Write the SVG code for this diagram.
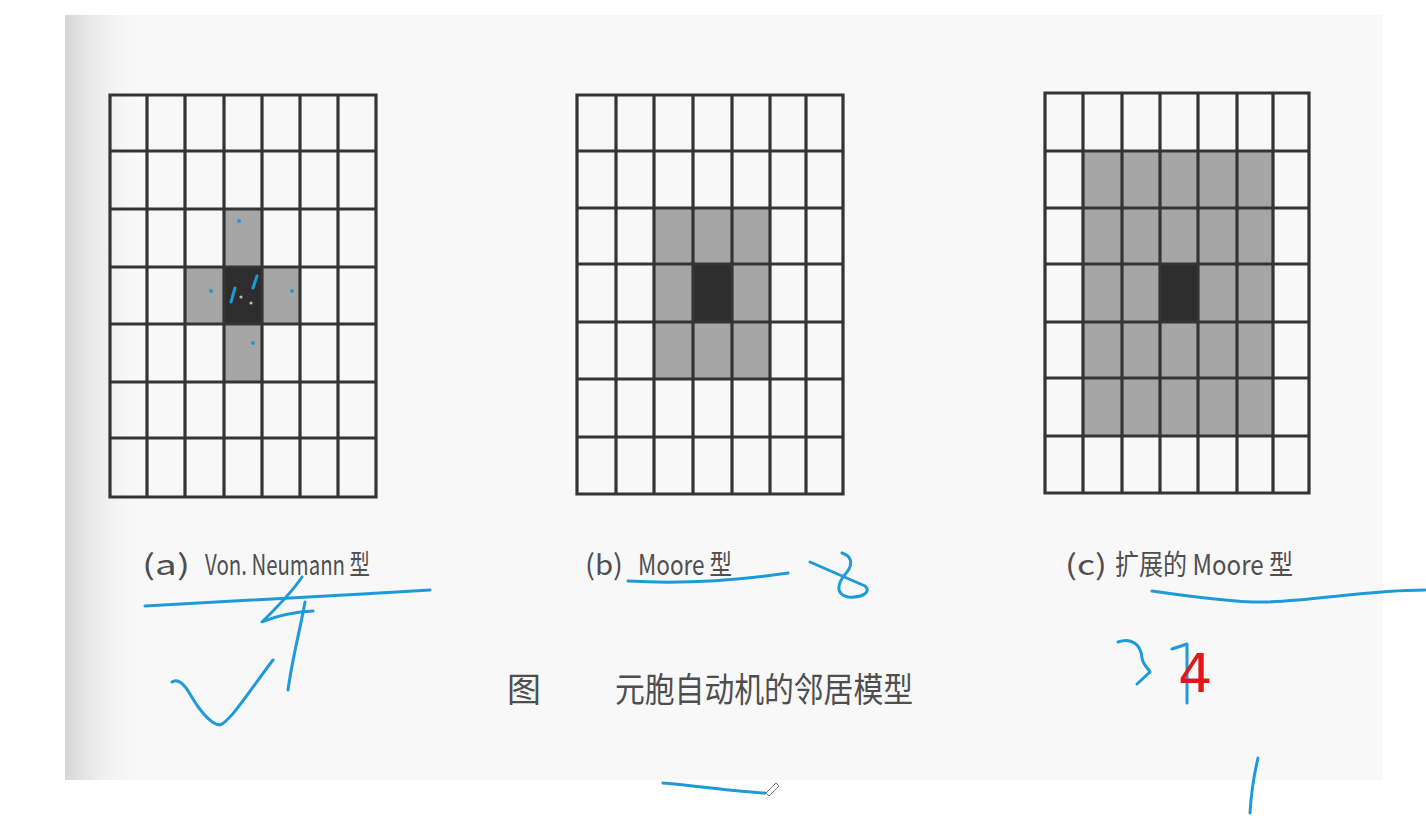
<svg xmlns="http://www.w3.org/2000/svg" width="1426" height="820" viewBox="0 0 1426 820">
<defs>
<linearGradient id="edge" x1="0" y1="0" x2="1" y2="0">
<stop offset="0" stop-color="#d6d6d6"/>
<stop offset="1" stop-color="#f8f8f9" stop-opacity="0"/>
</linearGradient>
<style>
.grid{fill:none;stroke:#343434;stroke-width:3.2}
.nb{fill:#a6a6a6}
.ct{fill:#2d2d2d}
.lbl{font-family:"Liberation Sans Narrow","Noto Sans CJK SC",sans-serif;font-size:28px;fill:#4e4e4e}
.cjk{font-family:"Noto Sans CJK SC","Noto Sans CJK JP",sans-serif;fill:#4e4e4e}
.ink{fill:none;stroke:#1f9ad8;stroke-width:3;stroke-linecap:round;stroke-linejoin:round}
.dot{fill:#1f9ad8}
</style>
</defs>
<rect width="1426" height="820" fill="#ffffff"/>
<rect x="65" y="15" width="1318" height="765" fill="#f8f8f9"/>
<rect x="65" y="15" width="80" height="765" fill="url(#edge)"/>

<g id="grid-a">
<rect class="nb" x="224" y="209" width="38" height="58"/>
<rect class="nb" x="185" y="267" width="39" height="57"/>
<rect class="nb" x="262" y="267" width="38" height="57"/>
<rect class="nb" x="224" y="324" width="38" height="58"/>
<rect class="ct" x="224" y="267" width="38" height="57"/>
<path class="grid" d="M110,95H376V497H110Z M147,95V497 M185,95V497 M224,95V497 M262,95V497 M300,95V497 M338,95V497 M110,151H376 M110,209H376 M110,267H376 M110,324H376 M110,382H376 M110,438H376"/>
<circle class="dot" cx="239" cy="221" r="2"/>
<circle class="dot" cx="211" cy="291" r="2"/>
<circle class="dot" cx="292" cy="291" r="2"/>
<circle class="dot" cx="253" cy="343" r="2"/>
<circle cx="241" cy="297" r="1.6" fill="#bbbbbb"/>
<circle cx="251" cy="303" r="1.6" fill="#bbbbbb"/>
<path class="ink" d="M231,302L235,288 M253,288L257,276"/>
</g>

<g id="grid-b">
<rect class="nb" x="654" y="208" width="116" height="171"/>
<rect class="ct" x="693" y="264" width="39" height="58"/>
<path class="grid" d="M577,95H843V494H577Z M616,95V494 M654,95V494 M693,95V494 M732,95V494 M770,95V494 M806,95V494 M577,151H843 M577,208H843 M577,264H843 M577,322H843 M577,379H843 M577,437H843"/>
</g>

<g id="grid-c">
<rect class="nb" x="1083" y="151" width="190" height="285"/>
<rect class="ct" x="1160" y="264" width="38" height="58"/>
<path class="grid" d="M1045,93H1309V493H1045Z M1083,93V493 M1122,93V493 M1160,93V493 M1198,93V493 M1237,93V493 M1273,93V493 M1045,151H1309 M1045,208H1309 M1045,264H1309 M1045,322H1309 M1045,378H1309 M1045,436H1309"/>
</g>

<g id="labels">
<text class="lbl" y="575"><tspan x="142" textLength="48" lengthAdjust="spacingAndGlyphs">(a)</tspan><tspan x="205" textLength="165" lengthAdjust="spacingAndGlyphs">Von. Neumann 型</tspan></text>
<text class="lbl" y="575"><tspan x="585" textLength="38" lengthAdjust="spacingAndGlyphs">(b)</tspan><tspan x="638" textLength="94" lengthAdjust="spacingAndGlyphs">Moore 型</tspan></text>
<text class="lbl" y="575"><tspan x="1065" textLength="42" lengthAdjust="spacingAndGlyphs">(c)</tspan><tspan x="1115" textLength="178" lengthAdjust="spacingAndGlyphs">扩展的 Moore 型</tspan></text>
<text class="cjk" font-size="34" y="702"><tspan x="507">图</tspan><tspan x="615" textLength="298" lengthAdjust="spacingAndGlyphs">元胞自动机的邻居模型</tspan></text>
</g>

<g id="annotations">
<path class="ink" d="M145,606C220,602 330,596 430,590"/>
<path class="ink" d="M302,577C290,595 272,612 262,622C278,615 296,612 313,611"/>
<path class="ink" d="M305,602C300,630 292,660 288,690"/>
<path class="ink" d="M172,682C178,678 184,684 190,694C198,708 210,724 220,725C230,722 250,690 273,660"/>
<path class="ink" d="M628,581C680,584 740,580 788,573"/>
<path class="ink" d="M810,562L865,586C872,592 862,598 848,597C834,594 838,582 847,572C853,564 852,556 842,553"/>
<path class="ink" d="M663,783C700,786 735,792 765,793"/>
<path d="M766,793L776,783L779,786L769,796Z" fill="none" stroke="#777" stroke-width="1"/>
<path class="ink" d="M1152,591C1200,598 1240,603 1267,602C1320,600 1370,590 1425,590"/>
<path class="ink" d="M1118,642C1132,637 1141,645 1142,658C1143,665 1148,668 1150,672L1137,684"/>
<path class="ink" d="M1172,649L1187,644L1187,703"/>
<path class="ink" d="M1258,758C1254,775 1251,795 1250,813"/>
<text x="1178" y="692" font-family="DejaVu Sans" font-size="54" fill="#e21818">4</text>
</g>
</svg>
